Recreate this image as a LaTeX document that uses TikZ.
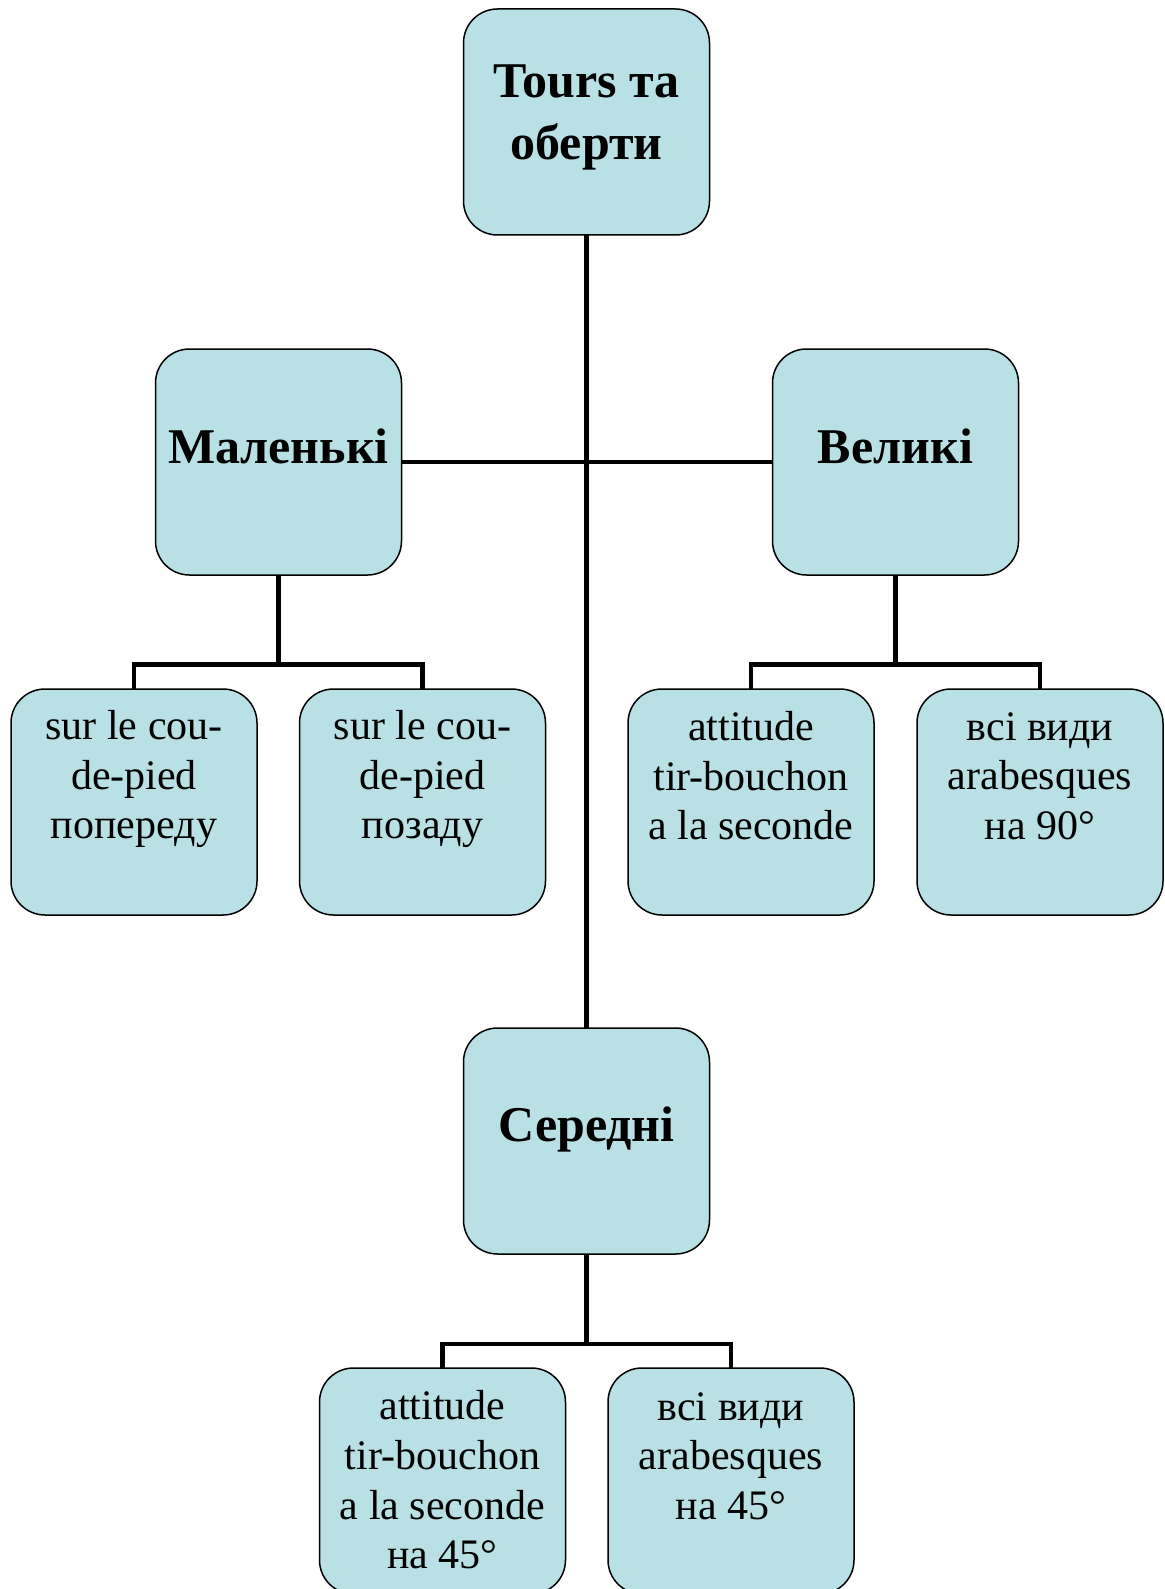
\documentclass[tikz,border=0pt]{standalone}
\usepackage{fontspec}
\setmainfont{Liberation Serif}
\usetikzlibrary{backgrounds}
\definecolor{boxfill}{RGB}{185,224,228}
\tikzset{
  box/.style={draw=black, line width=1.5pt, fill=boxfill, rounded corners=34pt,
    minimum width=246pt, minimum height=226pt, inner sep=0pt, outer sep=0pt},
  headtxt/.style={align=center, inner sep=0pt, font=\fontsize{50}{62}\selectfont\bfseries},
  leaftxt/.style={align=center, inner sep=0pt, font=\fontsize{42}{49.6}\selectfont},
  link/.style={line width=4.5pt, line join=miter, draw=black}
}
\begin{document}
\begin{tikzpicture}[x=1pt, y=-1pt]
\useasboundingbox (0,0) rectangle (1164,1589);

% boxes
\node[box] (root)  at (586.5,122)  {};
\node[box] (small) at (278.5,462)  {};
\node[box] (big)   at (895.5,462)  {};
\node[box] (sl1)   at (134,802)    {};
\node[box] (sl2)   at (422.5,802)  {};
\node[box] (bl1)   at (751,802)    {};
\node[box] (bl2)   at (1040,802)   {};
\node[box] (mid)   at (586.5,1141) {};
\node[box] (ml1)   at (442.5,1481) {};
\node[box] (ml2)   at (731,1481)   {};

% labels
\node[headtxt] (root-t)  at ([yshift=5pt]root.center)   {Tours та\\оберти};
\node[headtxt] (small-t) at ([yshift=16pt]small.center) {Маленькі};
\node[headtxt] (big-t)   at ([yshift=16pt]big.center)   {Великі};
\node[headtxt] (mid-t)   at ([yshift=12pt]mid.center)   {Середні};
\node[leaftxt] (sl1-t) at ([yshift=23pt]sl1.center) {sur le cou-\\de-pied\\попереду};
\node[leaftxt] (sl2-t) at ([yshift=23pt]sl2.center) {sur le cou-\\de-pied\\позаду};
\node[leaftxt] (bl1-t) at ([yshift=26pt]bl1.center) {attitude\\tir-bouchon\\a la seconde};
\node[leaftxt] (bl2-t) at ([yshift=26pt]bl2.center) {всі види\\arabesques\\на 90°};
\node[leaftxt] (ml1-t) at ([yshift=1pt]ml1.center)  {attitude\\tir-bouchon\\a la seconde\\на 45°};
\node[leaftxt] (ml2-t) at ([yshift=25pt]ml2.center) {всі види\\arabesques\\на 45°};

% junction points
\coordinate (sj) at (278.5,664.5);
\coordinate (bj) at (895.5,664.5);
\coordinate (mj) at (586.5,1344);

% connectors
\begin{scope}[on background layer]
  \draw[link] (root.south) -- (mid.north);
  \draw[link] (small.east) -- (big.west);
  \draw[link] (small.south) -- (sj);
  \draw[link] (sl1.north) |- (sj) -| (sl2.north);
  \draw[link] (big.south) -- (bj);
  \draw[link] (bl1.north) |- (bj) -| (bl2.north);
  \draw[link] (mid.south) -- (mj);
  \draw[link] (ml1.north) |- (mj) -| (ml2.north);
\end{scope}
\end{tikzpicture}
\end{document}
